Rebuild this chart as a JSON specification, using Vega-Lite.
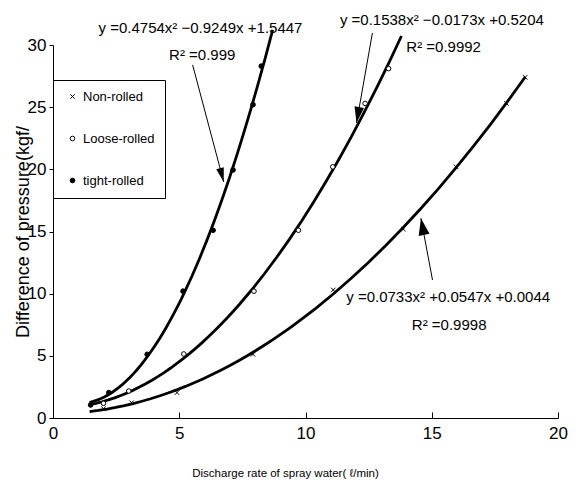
{
  "$schema": "https://vega.github.io/schema/vega-lite/v6.json",
  "width": 505,
  "height": 373,
  "autosize": {"type": "none"},
  "padding": {"left": 53, "top": 45, "right": 23, "bottom": 68},
  "background": "white",
  "config": {
    "view": {"stroke": null},
    "axis": {"grid": false, "domainColor": "black", "tickColor": "black", "labelColor": "black", "titleColor": "black", "labelFont": "Liberation Sans", "titleFont": "Liberation Sans", "titleFontWeight": "normal", "domainWidth": 1, "tickWidth": 1}
  },
  "datasets": {
    "pts": [
      {"series": "tight-rolled", "x": 1.49, "y": 1.05},
      {"series": "tight-rolled", "x": 2.21, "y": 2.04},
      {"series": "tight-rolled", "x": 3.73, "y": 5.12},
      {"series": "tight-rolled", "x": 5.15, "y": 10.2},
      {"series": "tight-rolled", "x": 6.34, "y": 15.1},
      {"series": "tight-rolled", "x": 7.13, "y": 19.95},
      {"series": "tight-rolled", "x": 7.92, "y": 25.2},
      {"series": "tight-rolled", "x": 8.25, "y": 28.3},
      {"series": "Loose-rolled", "x": 2.0, "y": 1.18},
      {"series": "Loose-rolled", "x": 3.0, "y": 2.17},
      {"series": "Loose-rolled", "x": 5.18, "y": 5.15},
      {"series": "Loose-rolled", "x": 7.96, "y": 10.2},
      {"series": "Loose-rolled", "x": 9.72, "y": 15.1},
      {"series": "Loose-rolled", "x": 11.08, "y": 20.2},
      {"series": "Loose-rolled", "x": 12.36, "y": 25.3},
      {"series": "Loose-rolled", "x": 13.29, "y": 28.1},
      {"series": "Non-rolled", "x": 2.0, "y": 0.75},
      {"series": "Non-rolled", "x": 3.11, "y": 1.23},
      {"series": "Non-rolled", "x": 4.91, "y": 2.04},
      {"series": "Non-rolled", "x": 7.92, "y": 5.12},
      {"series": "Non-rolled", "x": 11.1, "y": 10.3},
      {"series": "Non-rolled", "x": 13.87, "y": 15.2},
      {"series": "Non-rolled", "x": 15.96, "y": 20.2},
      {"series": "Non-rolled", "x": 17.96, "y": 25.3},
      {"series": "Non-rolled", "x": 18.7, "y": 27.4}
    ],
    "arrows": [
      {"id": 1, "x": 5.53, "y": 28.4, "x2": 6.76, "y2": 18.99},
      {"id": 2, "x": 12.65, "y": 30.97, "x2": 12.02, "y2": 23.73},
      {"id": 3, "x": 15.03, "y": 11.1, "x2": 14.57, "y2": 16.07}
    ],
    "notes": [
      {"x": 5.84, "y": 31.4, "text": "y =0.4754x² −0.9249x +1.5447"},
      {"x": 5.91, "y": 29.2, "text": "R² =0.999"},
      {"x": 15.4, "y": 32.0, "text": "y =0.1538x² −0.0173x +0.5204"},
      {"x": 15.47, "y": 29.8, "text": "R² =0.9992"},
      {"x": 15.65, "y": 9.73, "text": "y =0.0733x² +0.0547x +0.0044"},
      {"x": 15.69, "y": 7.48, "text": "R² =0.9998"}
    ]
  },
  "encoding": {
    "x": {"field": "x", "type": "quantitative", "scale": {"domain": [0, 20], "nice": false},
      "axis": {"values": [0, 5, 10, 15, 20], "title": "Discharge rate of spray water( ℓ/min)", "titleFontSize": 11.5, "titleX": 232, "titleY": 58, "titleBaseline": "alphabetic", "titleAnchor": "middle", "labelFontSize": 17, "tickSize": -6, "labelPadding": 13, "labelFlush": false}},
    "y": {"field": "y", "type": "quantitative", "scale": {"domain": [0, 30], "nice": false},
      "axis": {"values": [0, 5, 10, 15, 20, 25, 30], "title": "Difference of pressure(kgf/", "titleFontSize": 18, "titleX": -25, "titleBaseline": "alphabetic", "labelFontSize": 17, "tickSize": 4, "labelPadding": 3}}
  },
  "layer": [
    {
      "data": {"name": "pts"},
      "transform": [{"filter": "datum.series == 'tight-rolled'"}, {"regression": "y", "on": "x", "method": "poly", "order": 2, "extent": [1.45, 8.7]}],
      "mark": {"type": "line", "color": "black", "strokeWidth": 2.8, "clip": false}
    },
    {
      "data": {"name": "pts"},
      "transform": [{"filter": "datum.series == 'Loose-rolled'"}, {"regression": "y", "on": "x", "method": "poly", "order": 2, "extent": [1.45, 13.8]}],
      "mark": {"type": "line", "color": "black", "strokeWidth": 2.8, "clip": false}
    },
    {
      "data": {"name": "pts"},
      "transform": [{"filter": "datum.series == 'Non-rolled'"}, {"regression": "y", "on": "x", "method": "poly", "order": 2, "extent": [1.45, 18.7]}],
      "mark": {"type": "line", "color": "black", "strokeWidth": 2.8, "clip": false}
    },
    {
      "data": {"name": "pts"},
      "mark": {"type": "point", "filled": true, "stroke": "black", "strokeWidth": 1, "opacity": 1},
      "encoding": {
        "shape": {"field": "series", "type": "nominal", "scale": {"domain": ["Non-rolled", "Loose-rolled", "tight-rolled"], "range": ["M-1,-1L1,1M1,-1L-1,1", "circle", "circle"]},
          "legend": {"title": null, "orient": "none", "legendX": 0, "legendY": 35, "strokeColor": "black", "fillColor": "white", "padding": 10, "rowPadding": 28, "symbolOffset": 3, "labelOffset": 4, "labelFont": "Liberation Sans", "labelFontSize": 13, "labelColor": "black", "symbolStrokeColor": "black", "symbolStrokeWidth": 1, "cornerRadius": 0}},
        "fill": {"field": "series", "type": "nominal", "scale": {"domain": ["Non-rolled", "Loose-rolled", "tight-rolled"], "range": ["transparent", "white", "black"]}, "legend": {"title": null, "orient": "none", "legendX": 0, "legendY": 35}},
        "size": {"field": "series", "type": "nominal", "scale": {"domain": ["Non-rolled", "Loose-rolled", "tight-rolled"], "range": [20, 22, 38]}, "legend": {"title": null, "orient": "none", "legendX": 0, "legendY": 35}}
      }
    },
    {
      "data": {"name": "arrows"},
      "mark": {"type": "rule", "color": "black", "strokeWidth": 1, "clip": false},
      "encoding": {"x2": {"field": "x2"}, "y2": {"field": "y2"}}
    },
    {
      "data": {"name": "arrows"},
      "transform": [{"filter": "datum.id == 1"}],
      "mark": {"type": "point", "shape": "M0,0L0.55,2L-0.55,2Z", "filled": true, "color": "black", "opacity": 1, "size": 200, "angle": 165},
      "encoding": {"x": {"field": "x2", "type": "quantitative"}, "y": {"field": "y2", "type": "quantitative"}}
    },
    {
      "data": {"name": "arrows"},
      "transform": [{"filter": "datum.id == 2"}],
      "mark": {"type": "point", "shape": "M0,0L0.6,2L-0.6,2Z", "filled": true, "color": "black", "opacity": 1, "size": 256, "angle": 190},
      "encoding": {"x": {"field": "x2", "type": "quantitative"}, "y": {"field": "y2", "type": "quantitative"}}
    },
    {
      "data": {"name": "arrows"},
      "transform": [{"filter": "datum.id == 3"}],
      "mark": {"type": "point", "shape": "M0,0L0.65,2L-0.65,2Z", "filled": true, "color": "black", "opacity": 1, "size": 289, "angle": 349},
      "encoding": {"x": {"field": "x2", "type": "quantitative"}, "y": {"field": "y2", "type": "quantitative"}}
    },
    {
      "data": {"name": "notes"},
      "mark": {"type": "text", "font": "Liberation Sans", "fontSize": 15, "color": "black", "align": "center", "baseline": "middle", "clip": false},
      "encoding": {"text": {"field": "text"}}
    }
  ]
}
